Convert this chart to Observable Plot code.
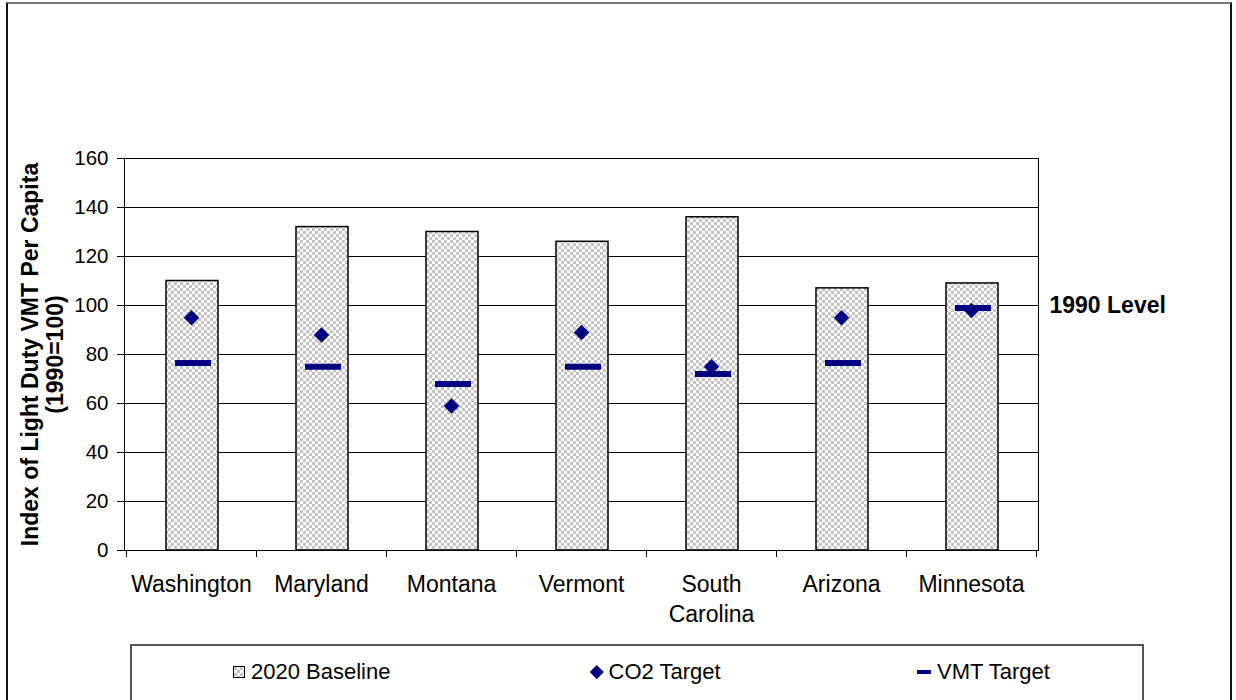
<!DOCTYPE html>
<html>
<head>
<meta charset="utf-8">
<script src="https://cdn.jsdelivr.net/npm/d3@7"></script>
<script src="https://cdn.jsdelivr.net/npm/@observablehq/plot@0.6"></script>
<style>
  html, body { margin: 0; padding: 0; background: #fff; }
  #wrap { position: relative; width: 1236px; height: 700px; overflow: hidden; font-family: "Liberation Sans", Arial, sans-serif; }
  #frame { position: absolute; left: 6px; top: 2px; width: 1226px; height: 720px; border: 2px solid #111; border-top-color: #777; box-sizing: border-box; }
  #chart { position: absolute; left: 0; top: 0; }
  #legend { position: absolute; left: 130px; top: 644px; width: 1014px; height: 80px; border: 2px solid #555; box-sizing: border-box; background: #fff; font-size: 22px; color: #000; }
  .item { position: absolute; top: 13px; display: flex; align-items: center; white-space: nowrap; }
  .sw-bar { width: 10px; height: 10px; border: 1px solid #000; margin-right: 6px; }
  .sw-dia { width: 9.5px; height: 9.5px; background: #000080; transform: rotate(45deg); margin-right: 7px; margin-left: 2px; }
  .sw-dash { width: 14px; height: 4px; background: #000080; margin-right: 6px; }
</style>
</head>
<body>
<div id="wrap">
  <div id="frame"></div>
  <div id="chart"></div>
  <div id="legend">
    <div class="item" style="left:101px"><svg class="sw-bar" width="10" height="10"><rect width="10" height="10" fill="url(#checker)"/></svg><span>2020 Baseline</span></div>
    <div class="item" style="left:458px"><div class="sw-dia"></div><span>CO2 Target</span></div>
    <div class="item" style="left:785px"><div class="sw-dash"></div><span>VMT Target</span></div>
  </div>
</div>
<script>
// States compared, with the 2020 baseline index and the two target indexes (1990 = 100)
const states = ["Washington", "Maryland", "Montana", "Vermont", "South Carolina", "Arizona", "Minnesota"];
const baseline2020 = [110, 132, 130, 126, 136, 107, 109];
const co2Target = [95, 88, 59, 89, 75, 95, 98];
const vmtTarget = [76.5, 75, 68, 75, 72, 76.5, 99];
const yTicks = [0, 20, 40, 60, 80, 100, 120, 140, 160];

const rows = states.map((s, i) => ({
  state: s,
  baseline: baseline2020[i],
  co2: co2Target[i],
  vmt: vmtTarget[i]
}));

const navy = "#000080";

// Small tick marks under the category axis at each band edge
const bandEdges = (index, scales, values, dims) => {
  const g = d3.create("svg:g").attr("shape-rendering", "crispEdges");
  const bw = scales.x.bandwidth();
  const y0 = scales.y(0);
  const edges = states.map(s => scales.x(s)).concat([scales.x(states[states.length - 1]) + bw]);
  for (const ex of edges) {
    g.append("line").attr("x1", ex).attr("x2", ex).attr("y1", y0).attr("y2", y0 + 7).attr("stroke", "#000");
  }
  return g.node();
};

const chart = Plot.plot({
  width: 1236,
  height: 640,
  marginLeft: 124,
  marginRight: 198,
  marginTop: 158,
  marginBottom: 90,
  style: { fontFamily: "'Liberation Sans', Arial, sans-serif", fontSize: "20.5px", color: "#000", background: "transparent" },
  x: { type: "band", domain: states, padding: 0, label: null },
  y: { domain: [0, 160], label: null },
  marks: [
    Plot.ruleY(yTicks, { stroke: "#000", strokeWidth: 1, shapeRendering: "crispEdges" }),
    Plot.barY(rows, {
      x: "state", y: "baseline",
      fill: "url(#checker)", stroke: "#000", strokeWidth: 1.5,
      insetLeft: 40, insetRight: 38
    }),
    Plot.tickY(rows, { x: "state", y: "vmt", stroke: navy, strokeWidth: 6, insetLeft: 49, insetRight: 45 }),
    Plot.dot(rows, { x: "state", y: "co2", symbol: "diamond2", r: 7, fill: navy, stroke: "none" }),
    Plot.frame({ stroke: "#000", shapeRendering: "crispEdges" }),
    Plot.axisY({ ticks: yTicks, tickSize: 7, tickPadding: 9, label: null }),
    Plot.axisX({ tickSize: 0, tickPadding: 20, fontSize: 23, lineHeight: 1.3, tickFormat: d => d.replace(" ", "\n"), label: null }),
    bandEdges,
    Plot.text(["1990 Level"], { frameAnchor: "right", y: [100], dx: 11, textAnchor: "start", fontWeight: "bold", fontSize: 23 }),
    Plot.text(["Index of Light Duty VMT Per Capita"], { frameAnchor: "left", rotate: -90, dx: -94, textAnchor: "middle", fontWeight: "bold", fontSize: 23 }),
    Plot.text(["(1990=100)"], { frameAnchor: "left", rotate: -90, dx: -69, textAnchor: "middle", fontWeight: "bold", fontSize: 23 })
  ]
});

// Checkered fill used by the baseline bars
const defs = d3.select(chart).insert("defs", ":first-child");
const pat = defs.append("pattern")
  .attr("id", "checker").attr("patternUnits", "userSpaceOnUse")
  .attr("width", 6).attr("height", 6);
pat.append("rect").attr("width", 6).attr("height", 6).attr("fill", "#fff");
pat.append("rect").attr("width", 3).attr("height", 3).attr("fill", "#c4c4c4");
pat.append("rect").attr("x", 3).attr("y", 3).attr("width", 3).attr("height", 3).attr("fill", "#c4c4c4");

document.getElementById("chart").appendChild(chart);
</script>
</body>
</html>
